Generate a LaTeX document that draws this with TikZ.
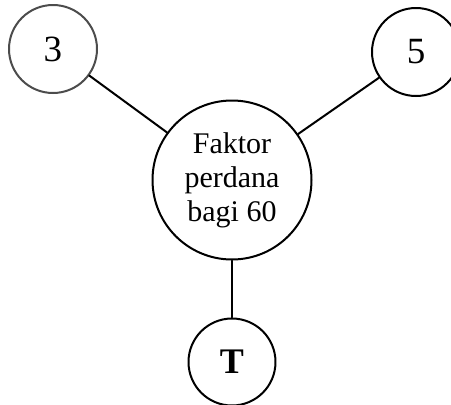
\documentclass[tikz,border=0pt]{standalone}
\usepackage{fontspec}
\setmainfont{Liberation Serif}
\begin{document}
\begin{tikzpicture}[line cap=round, line join=round, x=1pt, y=-1pt, line width=2pt,
  bubble/.style={draw, circle, inner sep=0pt, minimum size=88pt, font=\fontsize{37}{40}\selectfont}]
  \useasboundingbox (0,0) rectangle (451,405);
  \clip (0,0) rectangle (451,405);
  \node[bubble, draw=black!70] (three) at (53,49) {3};
  \node[bubble] (five) at (416,52) {5};
  \node[bubble, minimum size=159pt, font=\fontsize{30}{34}\selectfont, align=center] (faktor) at (232,180) {Faktor\\perdana\\bagi 60};
  \node[bubble, minimum size=87pt, font=\fontsize{36}{40}\selectfont\bfseries] (t) at (232,362) {T};
  \foreach \leaf in {three, five}
    \draw (faktor) -- (\leaf);
  \draw (faktor) -- (t);
\end{tikzpicture}
\end{document}
